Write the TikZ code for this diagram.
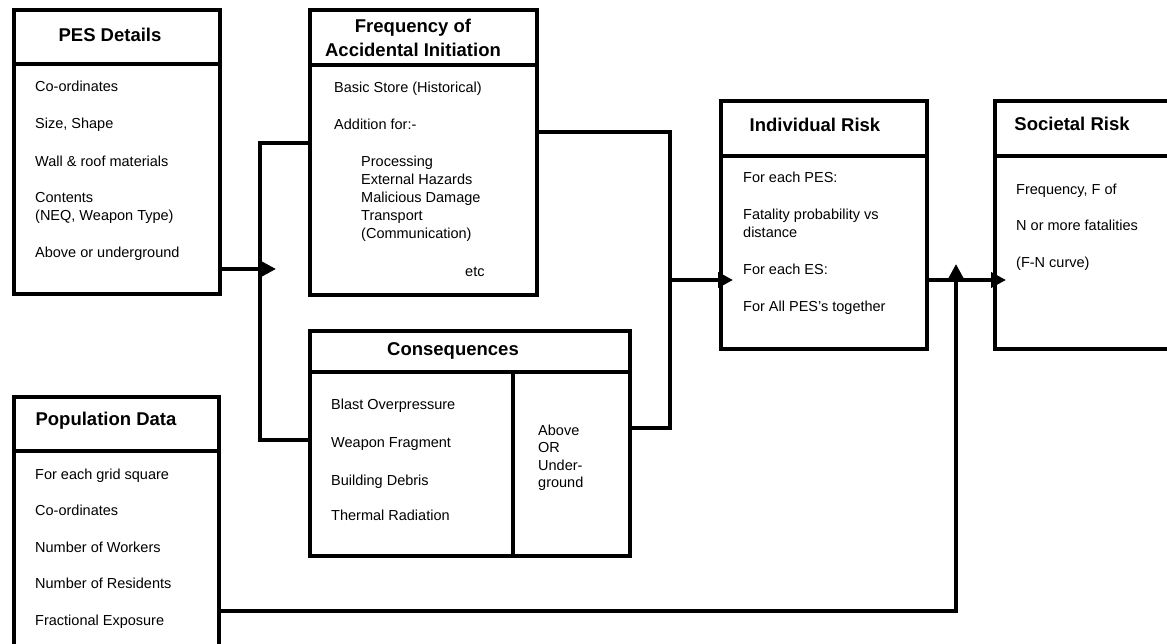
\documentclass[tikz,border=0pt]{standalone}
\usepackage{fontspec}
\setmainfont{Liberation Sans}
\usetikzlibrary{arrows.meta}
\tikzset{
  box/.style={draw,line width=3.6pt,anchor=north west,inner sep=0pt},
  wire/.style={line width=3.6pt},
  flow/.style={wire,-{Triangle[length=15pt,width=15pt]}},
  head/.style={anchor=base,font=\fontsize{18.5}{24}\selectfont\bfseries,align=center,inner sep=0pt},
  item/.style={anchor=base west,font=\fontsize{14.5}{18}\selectfont,align=left,inner sep=0pt}
}
\begin{document}
\begin{tikzpicture}[x=1pt,y=-1pt]
\useasboundingbox (0,0) rectangle (1167,644);

	\node[box,minimum width=206pt,minimum height=284pt] (pes) at (12,8) {};
	\node[box,minimum width=227pt,minimum height=285pt] (freq) at (308,8) {};
	\node[box,minimum width=320pt,minimum height=225pt] (cons) at (308,329) {};
	\node[box,minimum width=205pt,minimum height=300pt] (pop) at (12,395) {};
	\node[box,minimum width=206pt,minimum height=248pt] (ir) at (719,99) {};
	\node[box,minimum width=250pt,minimum height=248pt] (sr) at (993,99) {};

	\draw[wire] (pes.west |- 0,64) -- (pes.east |- 0,64);
	\draw[wire] (freq.west |- 0,65) -- (freq.east |- 0,65);
	\draw[wire] (cons.west |- 0,372) -- (cons.east |- 0,372);
	\draw[wire] (513,372) -- (cons.south -| 513,0);
	\draw[wire] (pop.west |- 0,451) -- (pop.east |- 0,451);
	\draw[wire] (ir.west |- 0,156) -- (ir.east |- 0,156);
	\draw[wire] (sr.west |- 0,156) -- (sr.east |- 0,156);

	\node[head] (pesh) at (110,42) {PES Details};
	\node[head] (freqh) at (413,57) {Frequency of\\Accidental Initiation};
	\node[head] (consh) at (453,355) {Consequences};
	\node[head] (poph) at (106,425) {Population Data};
	\node[head] (irh) at (815,132) {Individual Risk};
	\node[head] (srh) at (1072,131) {Societal Risk};

	\node[item] (pes1) at (35,92) {Co-ordinates};
	\node[item] (pes2) at (35,129) {Size, Shape};
	\node[item] (pes3) at (35,167) {Wall \& roof materials};
	\node[item] (pes4) at (35,221) {Contents\\(NEQ, Weapon Type)};
	\node[item] (pes5) at (35,258) {Above or underground};

	\node[item] (freq1) at (334,93) {Basic Store (Historical)};
	\node[item] (freq2) at (334,130) {Addition for:-};
	\node[item] (freq3) at (361,239) {Processing\\External Hazards\\Malicious Damage\\Transport\\(Communication)};
	\node[item] (freq4) at (465,277) {etc};

	\node[item] (cons1) at (331,409) {Blast Overpressure};
	\node[item] (cons2) at (331,447) {Weapon Fragment};
	\node[item] (cons3) at (331,485) {Building Debris};
	\node[item] (cons4) at (331,520) {Thermal Radiation};
	\node[item,font=\fontsize{14.5}{17.5}\selectfont] (cons5) at (538,487.5) {Above\\OR\\Under-\\ground};

	\node[item] (pop1) at (35,479) {For each grid square};
	\node[item] (pop2) at (35,515) {Co-ordinates};
	\node[item] (pop3) at (35,552) {Number of Workers};
	\node[item] (pop4) at (35,588) {Number of Residents};
	\node[item] (pop5) at (35,625) {Fractional Exposure};

	\node[item] (ir1) at (743,183) {For each PES:};
	\node[item] (ir2) at (743,238) {Fatality probability vs\\distance};
	\node[item] (ir3) at (743,275) {For each ES:};
	\node[item] (ir4) at (743,312) {For All PES's together};

	\node[item] (sr1) at (1016,195) {Frequency, F of};
	\node[item] (sr2) at (1016,231) {N or more fatalities};
	\node[item] (sr3) at (1016,268) {(F-N curve)};

	\coordinate (ptip) at (276,269);
	\coordinate (ltop) at (260,143);
	\coordinate (lbot) at (260,440);
	\coordinate (rtop) at (670,132);
	\coordinate (rbot) at (670,428);
	\coordinate (rbus) at (670,280);
	\coordinate (uptip) at (956,264);

	\draw[flow] (pes.east |- ptip) -- (ptip);
	\draw[wire] (freq.west |- ltop) -- (ltop) -- (lbot) -- (cons.west |- lbot);
	\draw[wire] (freq.east |- rtop) -- (rtop) -- (rbot) -- (cons.east |- rbot);
	\draw[flow] (rbus) -- ([xshift=14pt]ir.west |- rbus);
	\draw[flow] (ir.east |- rbus) -- ([xshift=13pt]sr.west |- rbus);
	\draw[flow] (pop.east |- 0,611) -| (uptip);

\end{tikzpicture}
\end{document}
